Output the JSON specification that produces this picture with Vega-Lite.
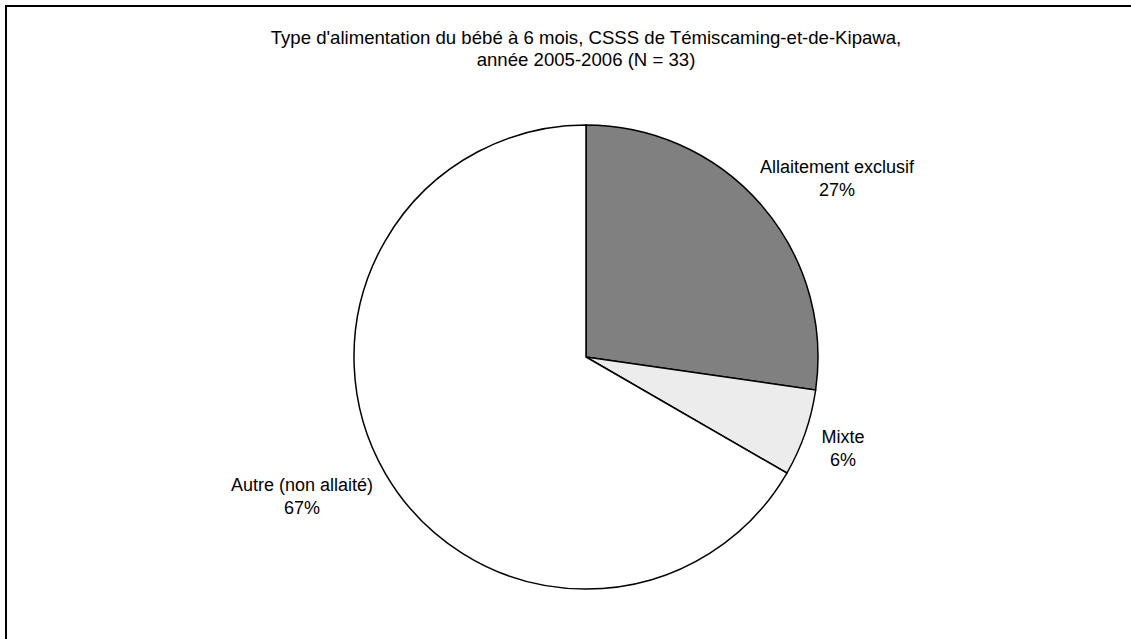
{
  "$schema": "https://vega.github.io/schema/vega-lite/v6.json",
  "width": 1160,
  "height": 702,
  "autosize": {"type": "none"},
  "padding": {"left": 6, "top": 6, "right": -35, "bottom": -69},
  "background": "white",
  "view": {"stroke": "black", "strokeWidth": 2, "fill": "white"},
  "config": {
    "font": "Liberation Sans",
    "text": {"font": "Liberation Sans"}
  },
  "title": {
    "text": ["Type d'alimentation du bébé à 6 mois, CSSS de Témiscaming-et-de-Kipawa,", "année 2005-2006  (N = 33)"],
    "font": "Liberation Sans",
    "fontSize": 18.6,
    "fontWeight": "normal",
    "color": "black",
    "anchor": "middle",
    "lineHeight": 22,
    "offset": -64
  },
  "data": {
    "values": [
      {"cat": "Allaitement exclusif", "n": 9, "pct": "27%", "ordre": 1},
      {"cat": "Mixte", "n": 2, "pct": "6%", "ordre": 2},
      {"cat": "Autre (non allaité)", "n": 22, "pct": "67%", "ordre": 3}
    ]
  },
  "layer": [
    {
      "mark": {"type": "arc", "outerRadius": 232, "stroke": "black", "strokeWidth": 1.5},
      "encoding": {
        "theta": {"field": "n", "type": "quantitative", "stack": true},
        "order": {"field": "ordre", "type": "quantitative"},
        "color": {
          "field": "cat",
          "type": "nominal",
          "scale": {
            "domain": ["Allaitement exclusif", "Mixte", "Autre (non allaité)"],
            "range": ["#808080", "#ececec", "#ffffff"]
          },
          "legend": null
        }
      }
    },
    {
      "transform": [
        {"calculate": "[datum.cat, datum.pct]", "as": "lbl"},
        {"joinaggregate": [{"op": "sum", "field": "n", "as": "total"}]},
        {"window": [{"op": "sum", "field": "n", "as": "cum"}], "sort": [{"field": "ordre"}]},
        {"calculate": "2 * PI * (datum.cum - datum.n / 2) / datum.total", "as": "mid"}
      ],
      "mark": {
        "type": "text",
        "radius": 252,
        "fontSize": 18,
        "lineHeight": 23,
        "color": "black",
        "align": "center",
        "baseline": "middle",
        "dx": {"expr": "sin(datum.mid) * length(datum.cat) * 4"},
        "dy": {"expr": "-cos(datum.mid) * 23 - 9"}
      },
      "encoding": {
        "theta": {"field": "n", "type": "quantitative", "stack": true},
        "order": {"field": "ordre", "type": "quantitative"},
        "text": {"field": "lbl"}
      }
    }
  ]
}
